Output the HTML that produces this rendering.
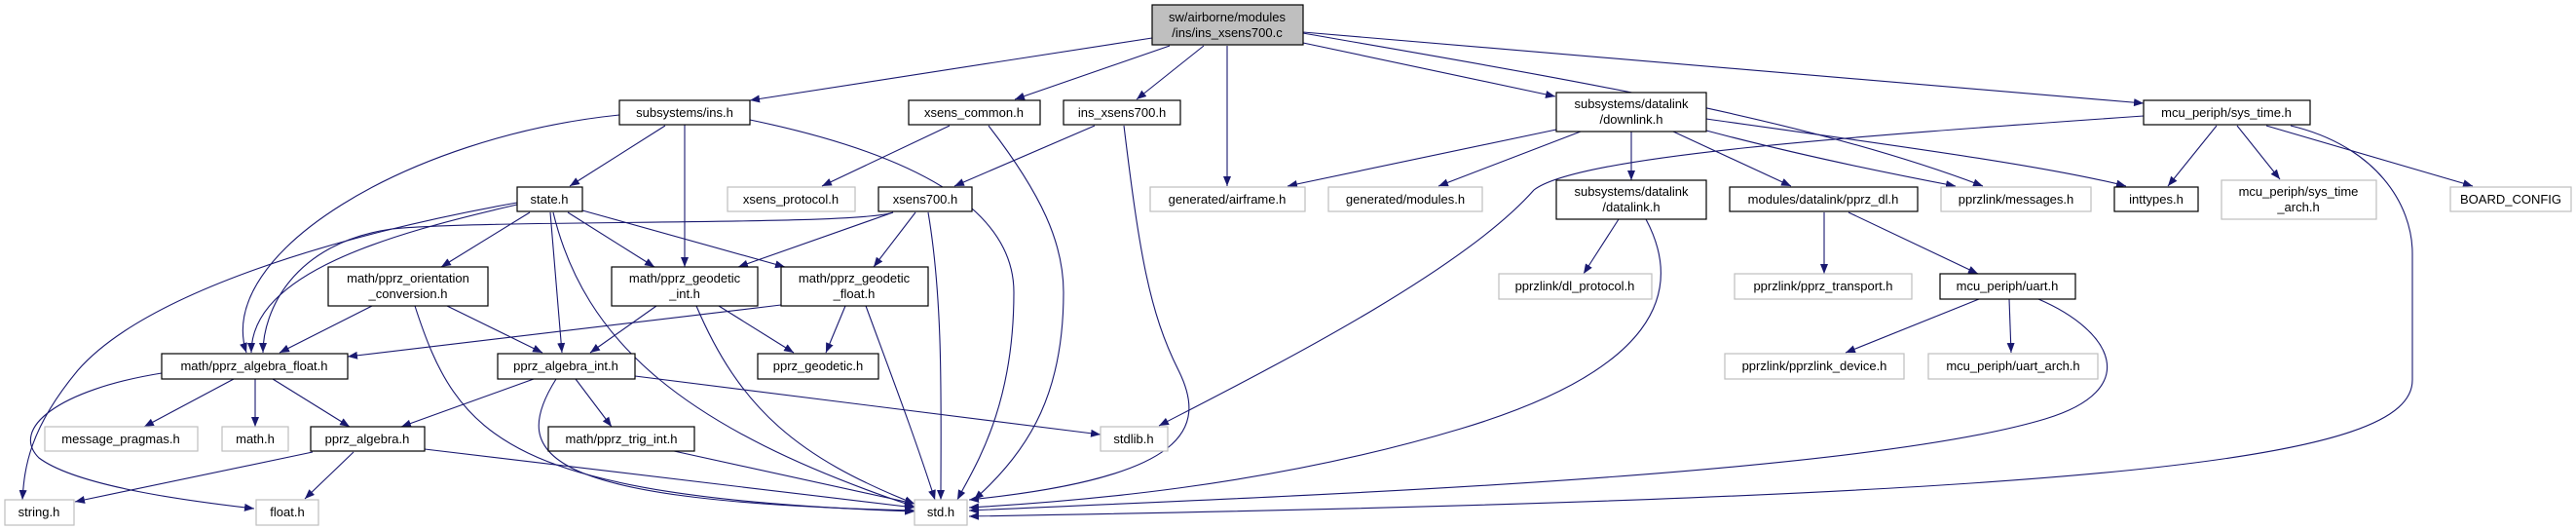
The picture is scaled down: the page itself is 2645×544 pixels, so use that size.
<!DOCTYPE html>
<html><head><meta charset="utf-8"><style>
html,body{margin:0;padding:0;background:#fff}
svg{display:block}
text{font-family:"Liberation Sans",sans-serif;font-size:13px;fill:#000;text-anchor:middle}
.b{fill:#fff;stroke:#000;stroke-width:1.2}
.g{fill:#fff;stroke:#bfbfbf;stroke-width:1.2}
.e{fill:none;stroke:#191970;stroke-width:1.1;marker-end:url(#a)}
</style></head><body>
<svg width="2645" height="544" viewBox="0 0 2645 544" xmlns="http://www.w3.org/2000/svg">
<defs><marker id="a" markerUnits="userSpaceOnUse" markerWidth="11" markerHeight="8" refX="10" refY="4" orient="auto"><path d="M0,0 L10,4 L0,8 z" fill="#191970"/></marker></defs>
<!-- edges -->
<path class="e" d="M1183,39 L770,103"/>
<path class="e" d="M1201,47 L1042,102"/>
<path class="e" d="M1236,47 L1167,102"/>
<path class="e" d="M1260,47 L1260,191"/>
<path class="e" d="M1338,44 L1597,99"/>
<path class="e" d="M1338,33 L2201,106"/>
<path class="e" d="M1338,34 C1600,80 1850,120 2036,191"/>
<path class="e" d="M1752,122 C1950,150 2100,170 2183,191"/>
<path class="e" d="M1752,134 C1850,160 1950,180 2008,191"/>
<path class="e" d="M1718,135 L1839,191"/>
<path class="e" d="M2201,119 C1900,140 1620,160 1575,195 C1500,280 1300,380 1190,437"/>
<path class="e" d="M683,129 L585,191"/>
<path class="e" d="M703,128 L703,274"/>
<path class="e" d="M636,118 C420,140 220,260 253,362"/>
<path class="e" d="M770,123 C900,150 1041,200 1041,300 C1041,420 1000,480 983,513"/>
<path class="e" d="M975,129 L844,191"/>
<path class="e" d="M1015,129 C1070,200 1092,250 1092,300 C1092,400 1060,460 1000,513"/>
<path class="e" d="M1124,129 L980,191"/>
<path class="e" d="M1154,129 C1170,260 1180,320 1210,380 C1240,440 1220,490 995,513"/>
<path class="e" d="M917,218 C880,232 500,225 402,235 C300,250 270,320 270,362"/>
<path class="e" d="M917,218 L758,274"/>
<path class="e" d="M940,218 L897,274"/>
<path class="e" d="M953,218 C969,312 966,420 966,513"/>
<path class="e" d="M531,208 C350,240 150,300 80,380 C30,440 25,480 23,513"/>
<path class="e" d="M531,210 C400,240 258,280 258,362"/>
<path class="e" d="M544,218 L453,274"/>
<path class="e" d="M583,218 L672,274"/>
<path class="e" d="M598,216 L806,274"/>
<path class="e" d="M565,218 L577,362"/>
<path class="e" d="M568,218 C600,350 700,440 939,520"/>
<path class="e" d="M382,314 L287,362"/>
<path class="e" d="M459,314 L557,362"/>
<path class="e" d="M426,314 C470,450 520,510 939,525"/>
<path class="e" d="M674,314 L606,362"/>
<path class="e" d="M738,314 L815,362"/>
<path class="e" d="M715,314 C760,420 820,470 939,517"/>
<path class="e" d="M802,313 L357,366"/>
<path class="e" d="M868,314 L848,362"/>
<path class="e" d="M889,314 C914,382 940,450 960,513"/>
<path class="e" d="M166,383 C60,400 10,440 40,470 C80,500 200,515 261,522"/>
<path class="e" d="M240,389 L148,438"/>
<path class="e" d="M262,389 L262,438"/>
<path class="e" d="M280,389 L359,438"/>
<path class="e" d="M548,389 L412,438"/>
<path class="e" d="M591,389 L628,438"/>
<path class="e" d="M571,389 C520,470 560,515 939,524"/>
<path class="e" d="M652,386 L1130,446"/>
<path class="e" d="M321,464 L77,515"/>
<path class="e" d="M363,464 L313,512"/>
<path class="e" d="M436,461 L939,521"/>
<path class="e" d="M692,463 L939,517"/>
<path class="e" d="M1598,133 L1322,191"/>
<path class="e" d="M1623,135 L1477,191"/>
<path class="e" d="M1675,135 L1675,185"/>
<path class="e" d="M1662,225 L1626,281"/>
<path class="e" d="M1690,225 C1730,300 1700,380 1500,440 C1300,500 1100,515 995,521"/>
<path class="e" d="M1873,218 L1873,281"/>
<path class="e" d="M1898,218 L2031,281"/>
<path class="e" d="M2032,307 L1895,362"/>
<path class="e" d="M2063,307 L2065,362"/>
<path class="e" d="M2093,307 C2170,340 2200,400 2100,430 C1900,490 1300,510 995,524"/>
<path class="e" d="M2276,129 L2226,191"/>
<path class="e" d="M2297,129 L2341,184"/>
<path class="e" d="M2327,129 L2539,191"/>
<path class="e" d="M2352,129 C2440,150 2477,210 2477,260 L2477,390 C2477,470 2200,510 995,530"/>
<!-- nodes -->
<rect x="1183" y="5" width="155" height="41" fill="#bfbfbf" stroke="#000" stroke-width="1.2"/>
<text x="1260" y="22">sw/airborne/modules</text><text x="1260" y="38">/ins/ins_xsens700.c</text>

<rect class="b" x="636" y="103" width="134" height="25"/><text x="703" y="120">subsystems/ins.h</text>
<rect class="b" x="933" y="103" width="135" height="25"/><text x="1000" y="120">xsens_common.h</text>
<rect class="b" x="1092" y="103" width="120" height="25"/><text x="1152" y="120">ins_xsens700.h</text>
<rect class="b" x="1598" y="95" width="154" height="40"/><text x="1675" y="111">subsystems/datalink</text><text x="1675" y="127">/downlink.h</text>
<rect class="b" x="2201" y="103" width="171" height="25"/><text x="2286" y="120">mcu_periph/sys_time.h</text>

<rect class="b" x="531" y="192" width="67" height="25"/><text x="564" y="209">state.h</text>
<rect class="g" x="747" y="192" width="131" height="25"/><text x="812" y="209">xsens_protocol.h</text>
<rect class="b" x="902" y="192" width="96" height="25"/><text x="950" y="209">xsens700.h</text>
<rect class="g" x="1181" y="192" width="159" height="25"/><text x="1260" y="209">generated/airframe.h</text>
<rect class="g" x="1364" y="192" width="158" height="25"/><text x="1443" y="209">generated/modules.h</text>
<rect class="b" x="1598" y="185" width="154" height="40"/><text x="1675" y="201">subsystems/datalink</text><text x="1675" y="217">/datalink.h</text>
<rect class="b" x="1776" y="192" width="193" height="25"/><text x="1872" y="209">modules/datalink/pprz_dl.h</text>
<rect class="g" x="1993" y="192" width="154" height="25"/><text x="2070" y="209">pprzlink/messages.h</text>
<rect class="b" x="2171" y="192" width="86" height="25"/><text x="2214" y="209">inttypes.h</text>
<rect class="g" x="2281" y="185" width="159" height="40"/><text x="2360" y="201">mcu_periph/sys_time</text><text x="2360" y="217">_arch.h</text>
<rect class="g" x="2516" y="192" width="124" height="25"/><text x="2578" y="209">BOARD_CONFIG</text>

<rect class="b" x="337" y="274" width="164" height="40"/><text x="419" y="290">math/pprz_orientation</text><text x="419" y="306">_conversion.h</text>
<rect class="b" x="628" y="274" width="150" height="40"/><text x="703" y="290">math/pprz_geodetic</text><text x="703" y="306">_int.h</text>
<rect class="b" x="802" y="274" width="151" height="40"/><text x="877" y="290">math/pprz_geodetic</text><text x="877" y="306">_float.h</text>
<rect class="g" x="1539" y="281" width="157" height="26"/><text x="1617" y="298">pprzlink/dl_protocol.h</text>
<rect class="g" x="1781" y="281" width="182" height="26"/><text x="1872" y="298">pprzlink/pprz_transport.h</text>
<rect class="b" x="1992" y="281" width="139" height="26"/><text x="2061" y="298">mcu_periph/uart.h</text>

<rect class="b" x="166" y="363" width="191" height="26"/><text x="261" y="380">math/pprz_algebra_float.h</text>
<rect class="b" x="511" y="363" width="141" height="26"/><text x="581" y="380">pprz_algebra_int.h</text>
<rect class="b" x="778" y="363" width="124" height="26"/><text x="840" y="380">pprz_geodetic.h</text>
<rect class="g" x="1771" y="363" width="184" height="26"/><text x="1863" y="380">pprzlink/pprzlink_device.h</text>
<rect class="g" x="1980" y="363" width="174" height="26"/><text x="2067" y="380">mcu_periph/uart_arch.h</text>

<rect class="g" x="46" y="438" width="157" height="25"/><text x="124" y="455">message_pragmas.h</text>
<rect class="g" x="228" y="438" width="68" height="25"/><text x="262" y="455">math.h</text>
<rect class="b" x="319" y="438" width="117" height="25"/><text x="377" y="455">pprz_algebra.h</text>
<rect class="b" x="563" y="438" width="150" height="25"/><text x="638" y="455">math/pprz_trig_int.h</text>
<rect class="g" x="1130" y="438" width="69" height="25"/><text x="1164" y="455">stdlib.h</text>

<rect class="g" x="5" y="513" width="71" height="26"/><text x="40" y="530">string.h</text>
<rect class="g" x="263" y="513" width="64" height="26"/><text x="295" y="530">float.h</text>
<rect class="g" x="939" y="513" width="54" height="26"/><text x="966" y="530">std.h</text>
</svg>
</body></html>
